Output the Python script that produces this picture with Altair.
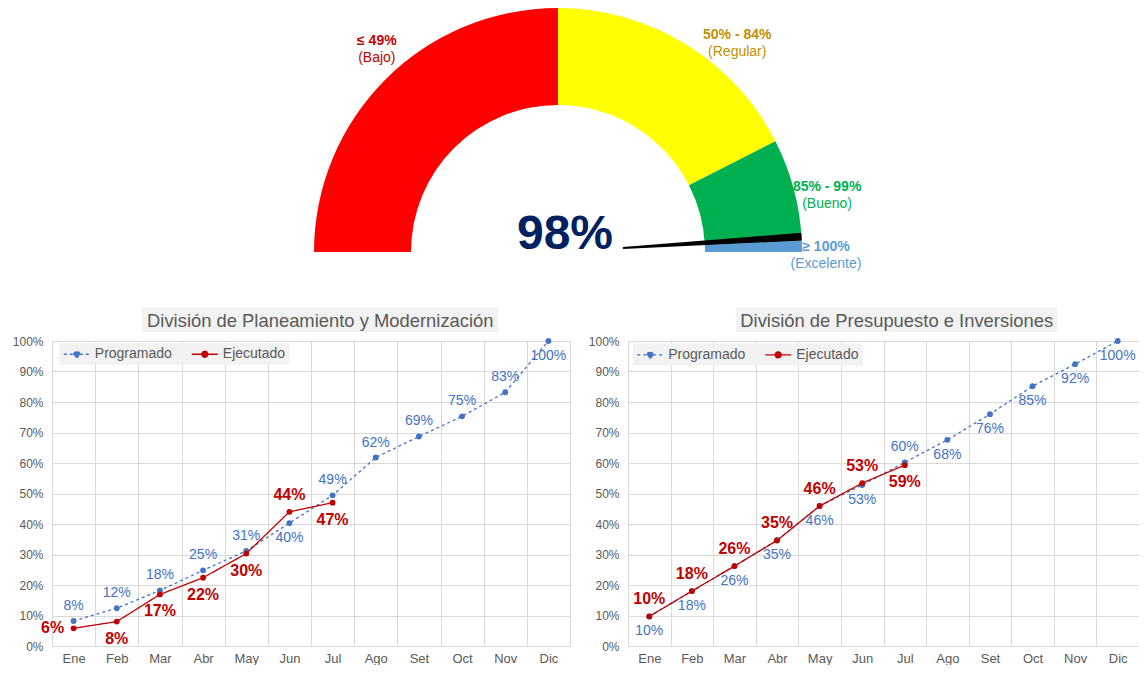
import math
import altair as alt
import pandas as pd

# ---------------- data ----------------
months = ["Ene", "Feb", "Mar", "Abr", "May", "Jun", "Jul", "Ago", "Set", "Oct", "Nov", "Dic"]
series_names = ["Programado", "Ejecutado"]

plan_programado = [0.082, 0.124, 0.182, 0.248, 0.312, 0.403, 0.494, 0.618, 0.687, 0.753, 0.832, 1.000]
plan_ejecutado = [0.058, 0.080, 0.169, 0.224, 0.303, 0.440, 0.470]

pres_programado = [0.097, 0.180, 0.262, 0.347, 0.459, 0.528, 0.602, 0.676, 0.760, 0.852, 0.924, 1.000]
pres_ejecutado = [0.097, 0.180, 0.262, 0.346, 0.459, 0.534, 0.593]

y_ticks = [0.0, 0.1, 0.2, 0.3, 0.4, 0.5, 0.6, 0.7, 0.8, 0.9, 1.0]

panel_titles = ["División de Planeamiento y Modernización", "División de Presupuesto e Inversiones"]

gauge_value = 0.98
band_names = ["Bajo", "Regular", "Bueno", "Excelente"]
band_starts = [0.0, 0.50, 0.85, 0.985]
band_ends = [0.50, 0.85, 0.985, 1.0]
band_ranges = ["≤ 49%", "50% - 84%", "85% - 99%", "≥ 100%"]
band_labels = ["(Bajo)", "(Regular)", "(Bueno)", "(Excelente)"]

# ---------------- style / layout ----------------
FONT = "Liberation Sans"
TXT = "#595959"
GRID = "#D9D9D9"
BLUE = "#4472C4"
RED = "#C00000"
band_fill = ["#FF0000", "#FFFF00", "#00B050", "#5B9BD5"]
band_text = ["#C00000", "#BF9000", "#00B050", "#5B9BD5"]
label_anchor = [0.268, 0.726, 0.934, 1.004]
label_radius = [272, 275, 275, 268]

# label placement keywords per point
plan_prog_pos = ["above"] * 5 + ["below"] + ["above"] * 5 + ["below"]
plan_ejec_pos = ["left", "below", "below", "below", "below", "above", "below"]
pres_prog_pos = ["below"] * 6 + ["above"] + ["below"] * 5
pres_ejec_pos = ["above"] * 6 + ["below"]

PW_L, PW_R, PH = 518, 511, 305
G_W, G_H = 900, 290
G_CX, G_CY = 506, 244
R_OUT, R_IN, R_NEEDLE = 244, 147, 65
NEEDLE_HALF = 0.005

# ---------------- gauge ----------------
theta_scale = alt.Scale(domain=[0, 1], range=[1.5 * math.pi, 2.5 * math.pi])
gdf = pd.DataFrame({
    "band": band_names, "start": band_starts, "end": band_ends,
    "range": band_ranges, "label": band_labels,
    "fill": band_fill, "tcolor": band_text,
    "anchor": label_anchor, "r": label_radius,
})
gbase = alt.Chart(gdf)
arcs = gbase.mark_arc(radius=R_OUT, radius2=R_IN).encode(
    theta=alt.Theta("start:Q", scale=theta_scale),
    theta2="end:Q",
    color=alt.Color("fill:N", scale=None),
    x=alt.value(G_CX), y=alt.value(G_CY),
)
ndf = pd.DataFrame({"value": [gauge_value]})
needle = alt.Chart(ndf).transform_calculate(
    a=f"datum.value - {NEEDLE_HALF}", b=f"datum.value + {NEEDLE_HALF}"
).mark_arc(radius=R_OUT, radius2=R_NEEDLE, color="black").encode(
    theta=alt.Theta("a:Q", scale=theta_scale),
    theta2="b:Q",
    x=alt.value(G_CX), y=alt.value(G_CY),
)
big = alt.Chart(ndf).mark_text(fontSize=48, fontWeight="bold", color="#002060", font=FONT).encode(
    text=alt.Text("value:Q", format=".0%"),
    x=alt.value(G_CX + 7), y=alt.value(G_CY - 17),
)
lab1 = gbase.mark_text(fontSize=14, fontWeight="bold", dy=-8.5, font=FONT).encode(
    theta=alt.Theta("anchor:Q", scale=theta_scale),
    radius=alt.Radius("r:Q", scale=None),
    text="range:N",
    color=alt.Color("tcolor:N", scale=None),
    x=alt.value(G_CX), y=alt.value(G_CY),
)
lab2 = gbase.mark_text(fontSize=14, dy=8.5, font=FONT).encode(
    theta=alt.Theta("anchor:Q", scale=theta_scale),
    radius=alt.Radius("r:Q", scale=None),
    text="label:N",
    color=alt.Color("tcolor:N", scale=None),
    x=alt.value(G_CX), y=alt.value(G_CY),
)
gauge = alt.layer(arcs, needle, big, lab1, lab2).properties(width=G_W, height=G_H)

# ---------------- line panels ----------------
# legend symbol: line with a dot, drawn from the nominal left edge to the right
LEG_PATH = ("M-1.95,0M-1,0L0.54,0M1.46,0L3,0"
            "M0.54,0A0.46,0.46,0,1,1,1.46,0A0.46,0.46,0,1,1,0.54,0Z")


def panel(title, prog, ejec, prog_pos, ejec_pos, width, title_cx, title_half, leg_x, leg_y):
    rows = []
    for m, v, p in zip(months, prog, prog_pos):
        rows.append({"month": m, "serie": "Programado", "value": v, "pos": p})
    for m, v, p in zip(months, ejec, ejec_pos):
        rows.append({"month": m, "serie": "Ejecutado", "value": v, "pos": p})
    df = pd.DataFrame(rows)

    X = alt.X("month:N", sort=months, bandPosition=0.5,
              scale=alt.Scale(domain=months, type="band", paddingInner=0, paddingOuter=0),
              axis=alt.Axis(title=None, tickBand="extent", grid=True, gridColor=GRID,
                            domainColor=GRID, ticks=False, tickSize=0, labelAngle=0,
                            labelFontSize=13, labelColor=TXT, labelFont=FONT, labelPadding=6))
    Y = alt.Y("value:Q", scale=alt.Scale(domain=[0, 1], nice=False),
              axis=alt.Axis(title=None, format=".0%", values=y_ticks, grid=True, gridColor=GRID,
                            domain=False, ticks=False, tickSize=0, labelFontSize=12,
                            labelColor=TXT, labelFont=FONT, labelPadding=9,
                            minExtent=44, maxExtent=44))
    leg = alt.Legend(title=None, orient="none", legendX=leg_x, legendY=leg_y, direction="horizontal",
                     fillColor="#F2F2F2", padding=3.5, symbolType=LEG_PATH, symbolSize=169,
                     symbolStrokeWidth=1.3, labelFontSize=14, labelColor=TXT, labelFont=FONT,
                     columnPadding=10, labelOffset=17)
    col = alt.Color("serie:N", scale=alt.Scale(domain=series_names, range=[BLUE, RED]), legend=leg)
    fil = alt.Fill("serie:N", scale=alt.Scale(domain=series_names, range=[BLUE, RED]), legend=leg)
    dash = alt.StrokeDash("serie:N", scale=alt.Scale(domain=series_names, range=[[3, 3], [1, 0]]),
                          legend=leg)

    base = alt.Chart(df)
    layers = []
    tdf = pd.DataFrame({"t": [title]})
    layers.append(alt.Chart(tdf).mark_rect(color="#F2F2F2").encode(
        x=alt.value(title_cx - title_half), x2=alt.value(title_cx + title_half),
        y=alt.value(-34), y2=alt.value(-9)))
    layers.append(alt.Chart(tdf).mark_text(fontSize=18.4, color=TXT, font=FONT).encode(
        text="t:N", x=alt.value(title_cx), y=alt.value(-20.5)))
    for s in series_names:
        sub = base.transform_filter(alt.datum.serie == s)
        layers.append(sub.mark_line(strokeWidth=1.3).encode(x=X, y=Y, color=col, strokeDash=dash))
        layers.append(sub.mark_point(filled=True, size=34, opacity=1).encode(x=X, y=Y, fill=fil))
    specs = [
        ("Programado", "above", BLUE, 14, "normal", 0, -15),
        ("Programado", "below", BLUE, 14, "normal", 0, 15),
        ("Ejecutado", "above", RED, 16, "bold", 0, -17),
        ("Ejecutado", "below", RED, 16, "bold", 0, 17),
        ("Ejecutado", "left", RED, 16, "bold", -21, 0),
    ]
    for s, p, c, fs, fw, dx, dy in specs:
        layers.append(base.transform_filter(
            (alt.datum.serie == s) & (alt.datum.pos == p)
        ).mark_text(color=c, fontSize=fs, fontWeight=fw, dx=dx, dy=dy, font=FONT).encode(
            x=X, y=Y, text=alt.Text("value:Q", format=".0%")))
    return alt.layer(*layers).properties(width=width, height=PH)


left = panel(panel_titles[0], plan_programado, plan_ejecutado, plan_prog_pos, plan_ejec_pos,
             PW_L, 268.3, 178, 7.3, 2)
right = panel(panel_titles[1], pres_programado, pres_ejecutado, pres_prog_pos, pres_ejec_pos,
              PW_R, 268.7, 160.5, 4.7, 2.6)

row = alt.hconcat(left, right, spacing=58, bounds="flush").resolve_scale(
    color="independent", fill="independent", strokeDash="independent")

chart = alt.vconcat(gauge, row, spacing=43, bounds="flush").resolve_scale(
    color="independent", fill="independent", strokeDash="independent"
).properties(padding=0).configure_view(stroke=None)

chart.save("out.html", embed_options={"renderer": "svg", "actions": False})
